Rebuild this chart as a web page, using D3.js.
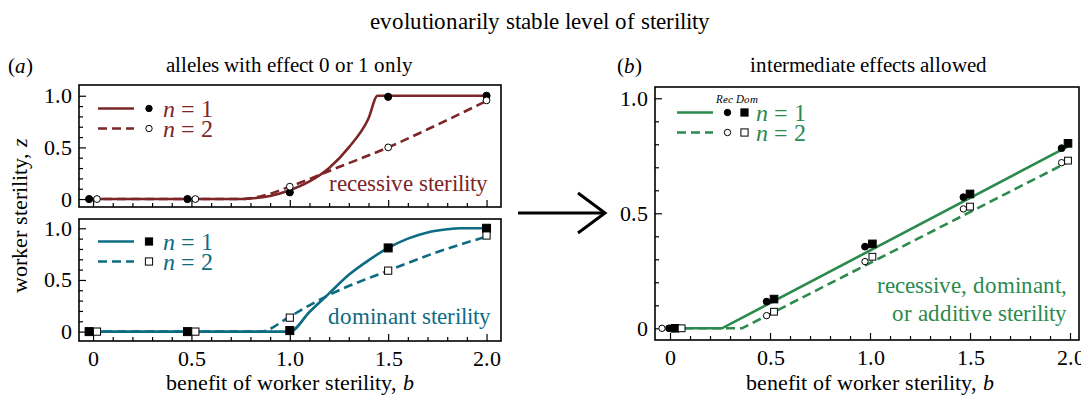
<!DOCTYPE html>
<html>
<head>
<meta charset="utf-8">
<script src="https://cdn.jsdelivr.net/npm/d3@7"></script>
<style>
  @font-face { font-family: "ChartSerif"; src: local("Liberation Serif"), local("LiberationSerif"), local("Tinos"); font-style: normal; }
  @font-face { font-family: "ChartSerif"; src: local("Liberation Serif Italic"), local("LiberationSerif-Italic"); font-style: italic; }
</style>
</head>
<body style="margin:0;background:#fff">
<svg id="s" width="1081" height="397"></svg>
<script>
// data
var xMajor = [0, 0.5, 1.0, 1.5, 2.0];
var yMajor = [0, 0.5, 1.0];

// (a) top: recessive sterility
var recN1Line = [[-0.02,0],[0.75,0],[0.8,0.005],[0.9,0.03],[1.0,0.085],[1.1,0.17],[1.2,0.3],[1.3,0.5],[1.4,0.78],[1.446,1.0],[2.0,1.0]];
var recN2Line = [[-0.02,0],[0.75,0],[0.85,0.025],[1.0,0.12],[1.25,0.31],[1.5,0.5],[1.75,0.72],[2.0,0.95]];
var recN1B = [-0.02, 0.48, 1.0, 1.5, 2.0], recN1Z = [0, 0, 0.065, 0.99, 1.0];
var recN2B = [0.02, 0.52, 1.0, 1.5, 2.0], recN2Z = [0, 0, 0.12, 0.5, 0.955];

// (a) bottom: dominant sterility
var domN1Line = [[-0.02,0],[1.0,0],[1.1,0.19],[1.2,0.37],[1.3,0.55],[1.4,0.69],[1.5,0.81],[1.6,0.9],[1.7,0.96],[1.8,0.99],[1.87,1.0],[2.0,1.0]];
var domN2Line = [[-0.02,0],[0.85,0],[1.0,0.145],[1.1,0.255],[1.2,0.355],[1.5,0.59],[1.75,0.77],[2.0,0.92]];
var domN1B = [-0.02, 0.48, 1.0, 1.5, 2.0], domN1Z = [0, 0, 0.01, 0.81, 1.0];
var domN2B = [0.02, 0.52, 1.0, 1.5, 2.0], domN2Z = [0, 0, 0.135, 0.59, 0.93];

// (b) intermediate effects
var bN1Line = [[0,0],[0.26,0],[2.0,0.795]];
var bN2Line = [[0,0],[0.36,0],[2.0,0.727]];
var bRecN1B = [-0.005, 0.483, 0.975, 1.467, 1.958], bRecN1Z = [0, 0.116, 0.355, 0.57, 0.783];
var bDomN1B = [0.025, 0.52, 1.012, 1.5, 1.99],     bDomN1Z = [0, 0.127, 0.367, 0.584, 0.804];
var bRecN2B = [-0.04, 0.483, 0.975, 1.467, 1.958], bRecN2Z = [0, 0.055, 0.29, 0.519, 0.72];
var bDomN2B = [0.058, 0.52, 1.012, 1.5, 1.99],     bDomN2Z = [0, 0.072, 0.311, 0.529, 0.729];

var red = "#7d2527", teal = "#0d6b82", green = "#2b8a4c";
var serif = '"ChartSerif", "Liberation Serif", Tinos, "Times New Roman", serif';

var svg = d3.select("#s");

function zip(b, z) { return b.map(function(d, i) { return [d, z[i]]; }); }
function fmt(d) { return d === 0 ? "0" : d3.format(".1f")(d); }

// frame + inward ticks, returns scales
function makePanel(box, xDom, yDom, showXLabels) {
  var x = d3.scaleLinear().domain(xDom).range([box.x0, box.x1]);
  var y = d3.scaleLinear().domain(yDom).range([box.y1, box.y0]);
  var g = svg.append("g");
  var minorX = d3.range(0, 2.01, 0.1).filter(function(d) { return xMajor.indexOf(Math.round(d*10)/10) < 0; });
  var minorY = d3.range(0, 1.01, 0.1).filter(function(d) { return yMajor.indexOf(Math.round(d*10)/10) < 0; });

  g.append("g").attr("transform", "translate(0," + box.y1 + ")")
    .call(d3.axisBottom(x).tickValues(xMajor).tickSize(-7).tickPadding(9)
      .tickFormat(showXLabels ? fmt : function() { return ""; }));
  g.append("g").attr("transform", "translate(0," + box.y1 + ")")
    .call(d3.axisBottom(x).tickValues(minorX).tickSize(-4).tickFormat(""));
  g.append("g").attr("transform", "translate(" + box.x0 + ",0)")
    .call(d3.axisLeft(y).tickValues(yMajor).tickSize(-7).tickPadding(7).tickFormat(fmt));
  g.append("g").attr("transform", "translate(" + box.x0 + ",0)")
    .call(d3.axisLeft(y).tickValues(minorY).tickSize(-4).tickFormat(""));
  g.selectAll(".domain").remove();
  g.selectAll("g").attr("font-family", null).attr("font-size", 22);
  g.selectAll(".tick line").attr("stroke", "#000").attr("stroke-width", 1.2);
  g.selectAll(".tick text").attr("fill", "#000");

  g.append("rect").attr("x", box.x0).attr("y", box.y0)
    .attr("width", box.x1 - box.x0).attr("height", box.y1 - box.y0)
    .attr("fill", "none").attr("stroke", "#000").attr("stroke-width", 1.6);
  return {x: x, y: y, g: svg.append("g")};
}

function drawLine(p, data, color, dashed, curved) {
  p.g.append("path").datum(data)
    .attr("d", d3.line().curve(curved ? d3.curveMonotoneX : d3.curveLinear)
      .x(function(d) { return p.x(d[0]); }).y(function(d) { return p.y(d[1]); }))
    .attr("fill", "none").attr("stroke", color).attr("stroke-width", 2.6)
    .attr("stroke-dasharray", dashed ? "9,5" : null);
}

function drawMarks(p, data, shape, filled, size) {
  var sel = p.g.selectAll(null).data(data).enter();
  if (shape === "circle") {
    sel.append("circle").attr("cx", function(d) { return p.x(d[0]); })
      .attr("cy", function(d) { return p.y(d[1]); }).attr("r", size)
      .attr("fill", filled ? "#000" : "#fff").attr("stroke", "#000").attr("stroke-width", 1);
  } else {
    sel.append("rect").attr("x", function(d) { return p.x(d[0]) - size; })
      .attr("y", function(d) { return p.y(d[1]) - size; })
      .attr("width", size * 2).attr("height", size * 2)
      .attr("fill", filled ? "#000" : "#fff").attr("stroke", "#000").attr("stroke-width", 1);
  }
}

function nLabel(x, y, n, color) {
  var t = svg.append("text").attr("x", x).attr("y", y).attr("font-size", 24).attr("fill", color);
  t.append("tspan").attr("font-style", "italic").text("n");
  t.append("tspan").text(" = " + n);
}

function legendRow(x, y, color, dashed) {
  svg.append("line").attr("x1", x).attr("x2", x + 36).attr("y1", y).attr("y2", y)
    .attr("stroke", color).attr("stroke-width", 2.6)
    .attr("stroke-dasharray", dashed ? "9,5" : null);
}

function legendMark(cx, cy, shape, filled) {
  var p = {x: function(d) { return d; }, y: function(d) { return d; }, g: svg};
  drawMarks(p, [[cx, cy]], shape, filled, shape === "circle" ? 3.2 : 3.6);
}

// titles
svg.append("text").attr("x", 540).attr("y", 29).attr("text-anchor", "middle")
  .attr("font-size", 23).text("evolutionarily stable level of sterility");
svg.append("text").attr("x", 8).attr("y", 73).attr("font-size", 21)
  .html('(<tspan font-style="italic">a</tspan>)');
svg.append("text").attr("x", 289).attr("y", 72).attr("text-anchor", "middle")
  .attr("font-size", 21).text("alleles with effect 0 or 1 only");
svg.append("text").attr("x", 617).attr("y", 73).attr("font-size", 21)
  .html('(<tspan font-style="italic">b</tspan>)');
svg.append("text").attr("x", 868).attr("y", 72).attr("text-anchor", "middle")
  .attr("font-size", 21).text("intermediate effects allowed");

// (a) top
var pTop = makePanel({x0: 79, x1: 501, y0: 85, y1: 207}, [-0.0714, 2.0735], [-0.077, 1.104], false);
drawLine(pTop, recN2Line, red, true, true);
drawLine(pTop, recN1Line, red, false, true);
drawMarks(pTop, zip(recN1B, recN1Z), "circle", true, 3.6);
drawMarks(pTop, zip(recN2B, recN2Z), "circle", false, 3.4);
svg.append("text").attr("x", 488).attr("y", 191).attr("text-anchor", "end")
  .attr("font-size", 22.5).attr("fill", red).text("recessive sterility");
legendRow(98, 108.5, red, false); legendMark(149, 108.5, "circle", true); nLabel(163, 116.5, 1, red);
legendRow(98, 128.5, red, true); legendMark(149, 128.5, "circle", false); nLabel(163, 136.5, 2, red);

// (a) bottom
var pBot = makePanel({x0: 79, x1: 501, y0: 219, y1: 341}, [-0.0714, 2.0735], [-0.0909, 1.0899], true);
drawLine(pBot, domN2Line, teal, true, true);
drawLine(pBot, domN1Line, teal, false, true);
drawMarks(pBot, zip(domN1B, domN1Z), "rect", true, 4);
drawMarks(pBot, zip(domN2B, domN2Z), "rect", false, 3.6);
svg.append("text").attr("x", 491).attr("y", 324).attr("text-anchor", "end")
  .attr("font-size", 22.5).attr("fill", teal).text("dominant sterility");
legendRow(98, 241.5, teal, false); legendMark(149, 241.5, "rect", true); nLabel(163, 249.5, 1, teal);
legendRow(98, 261.5, teal, true); legendMark(149, 261.5, "rect", false); nLabel(163, 269.5, 2, teal);

// shared axis titles for (a)
svg.append("text").attr("transform", "translate(27,215) rotate(-90)").attr("text-anchor", "middle")
  .attr("font-size", 22).html('worker sterility, <tspan font-style="italic">z</tspan>');
svg.append("text").attr("x", 290).attr("y", 390).attr("text-anchor", "middle")
  .attr("font-size", 22).html('benefit of worker sterility, <tspan font-style="italic">b</tspan>');

// arrow
svg.append("line").attr("x1", 518).attr("x2", 604).attr("y1", 213).attr("y2", 213)
  .attr("stroke", "#000").attr("stroke-width", 3);
svg.append("path").attr("d", "M578,193 L605,213 L578,233")
  .attr("fill", "none").attr("stroke", "#000").attr("stroke-width", 3);

// (b)
var pB = makePanel({x0: 655, x1: 1079, y0: 87, y1: 340}, [-0.075, 2.045], [-0.0509, 1.049], true);
drawLine(pB, bN2Line, green, true, false);
drawLine(pB, bN1Line, green, false, false);
drawMarks(pB, zip(bRecN1B, bRecN1Z), "circle", true, 3.4);
drawMarks(pB, zip(bDomN1B, bDomN1Z), "rect", true, 3.8);
drawMarks(pB, zip(bRecN2B, bRecN2Z), "circle", false, 3.2);
drawMarks(pB, zip(bDomN2B, bDomN2Z), "rect", false, 3.4);
svg.append("text").attr("x", 1067).attr("y", 293).attr("text-anchor", "end")
  .attr("font-size", 23).attr("fill", green).text("recessive, dominant,");
svg.append("text").attr("x", 1067).attr("y", 321).attr("text-anchor", "end")
  .attr("font-size", 23).attr("fill", green).text("or additive sterility");
svg.append("text").attr("x", 737).attr("y", 103).attr("text-anchor", "middle")
  .attr("font-size", 11).attr("font-style", "italic").text("Rec Dom");
legendRow(677, 112.5, green, false); legendMark(727.5, 112.5, "circle", true);
legendMark(744.5, 112.5, "rect", true); nLabel(756, 120.5, 1, green);
legendRow(677, 132.5, green, true); legendMark(727.5, 132.5, "circle", false);
legendMark(744.5, 132.5, "rect", false); nLabel(756, 140.5, 2, green);
svg.append("text").attr("x", 870).attr("y", 390).attr("text-anchor", "middle")
  .attr("font-size", 22).html('benefit of worker sterility, <tspan font-style="italic">b</tspan>');

// serif everywhere, inline and important so nothing overrides it
svg.selectAll("text, tspan").style("font-family", serif, "important");
</script>
</body>
</html>
